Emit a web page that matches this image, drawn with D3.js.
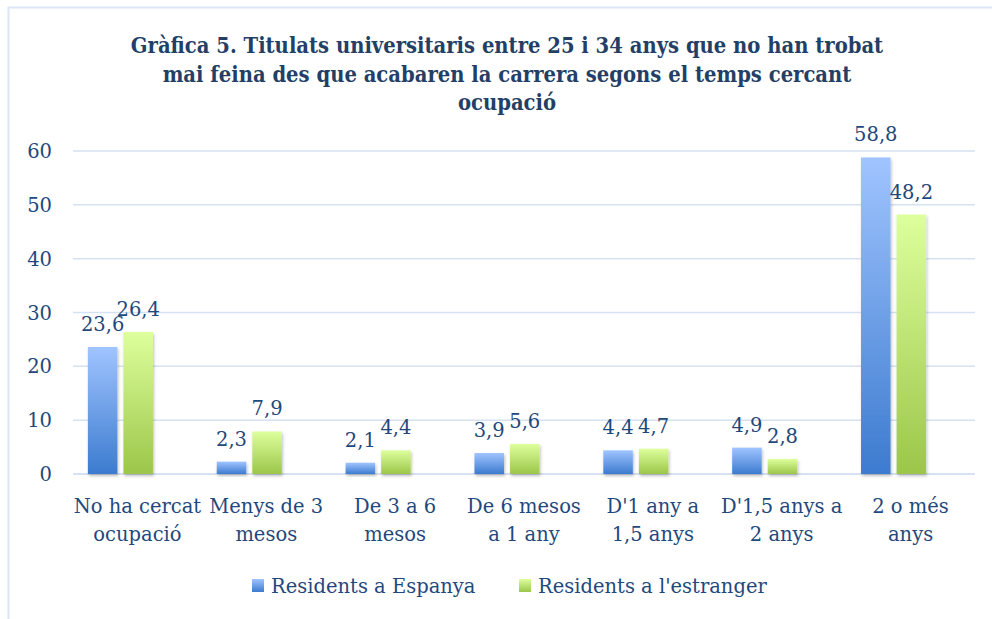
<!DOCTYPE html>
<html>
<head>
<meta charset="utf-8">
<script src="https://cdn.jsdelivr.net/npm/d3@7"></script>
<style>
  html, body { margin: 0; padding: 0; background: #fff; }
  svg { display: block; }
</style>
</head>
<body>
<div id="chart"></div>
<script>
const categories = [
  ["No ha cercat", "ocupació"],
  ["Menys de 3", "mesos"],
  ["De 3 a 6", "mesos"],
  ["De 6 mesos", "a 1 any"],
  ["D'1 any a", "1,5 anys"],
  ["D'1,5 anys a", "2 anys"],
  ["2 o més", "anys"]
];
const seriesNames = ["Residents a Espanya", "Residents a l'estranger"];
const espanya = [23.6, 2.3, 2.1, 3.9, 4.4, 4.9, 58.8];
const estranger = [26.4, 7.9, 4.4, 5.6, 4.7, 2.8, 48.2];
const yTicks = [0, 10, 20, 30, 40, 50, 60];
const titleLines = [
  "Gràfica 5. Titulats universitaris entre 25 i 34 anys que no han trobat",
  "mai feina des que acabaren la carrera segons el temps cercant",
  "ocupació"
];

const width = 992, height = 619;
const textColor = "#1f497d";
const gridColor = "#d6e1f1";
const serif = "'DejaVu Serif', serif";

const svg = d3.select("#chart").append("svg")
  .attr("width", width)
  .attr("height", height);

const defs = svg.append("defs");
const grads = [
  { id: "gBlue", top: "#a0c4ff", bottom: "#3c7bcf" },
  { id: "gGreen", top: "#ddff9c", bottom: "#9cc64a" }
];
grads.forEach(g => {
  const lg = defs.append("linearGradient")
    .attr("id", g.id)
    .attr("x1", 0).attr("y1", 0).attr("x2", 0).attr("y2", 1);
  lg.append("stop").attr("offset", "0%").attr("stop-color", g.top);
  lg.append("stop").attr("offset", "100%").attr("stop-color", g.bottom);
});
const shadow = defs.append("filter").attr("id", "shadow")
  .attr("x", "-30%").attr("y", "-10%").attr("width", "160%").attr("height", "130%");
shadow.append("feDropShadow")
  .attr("dx", 1).attr("dy", 2).attr("stdDeviation", 1.5)
  .attr("flood-color", "#000").attr("flood-opacity", 0.25);

// outer frame (cut off at right/bottom like the screenshot)
svg.append("rect")
  .attr("x", 8.5).attr("y", 7.5)
  .attr("width", width + 20).attr("height", height + 20)
  .attr("fill", "none")
  .attr("stroke", "#dce6f4")
  .attr("stroke-width", 2);

// title - condensed bold serif, sized so the first line is ~753px wide
const title = svg.append("g").selectAll("text")
  .data(titleLines)
  .join("text")
  .attr("x", 507)
  .attr("y", (d, i) => 53 + i * 28.5)
  .attr("text-anchor", "middle")
  .style("font-family", "'DejaVu Serif Condensed', 'DejaVu Serif', serif")
  .style("font-stretch", "condensed")
  .style("font-weight", "bold")
  .style("font-size", "20px")
  .style("fill", "#243f66")
  .text(d => d);
const w0 = title.node().getComputedTextLength();
if (w0 > 0) title.style("font-size", (20 * 753 / w0) + "px");

// scales
const y = d3.scaleLinear().domain([0, 60]).range([474, 151]);
const xAxis = d3.scaleBand().domain(d3.range(categories.length)).range([73, 975]);
const xBars = d3.scaleBand().domain(d3.range(categories.length)).range([56, 958]).paddingInner(0.495).paddingOuter(0.2475);
const xSub = d3.scaleBand().domain([0, 1]).range([0, xBars.bandwidth()]).paddingInner(0.17);

// gridlines
svg.append("g").selectAll("line")
  .data(yTicks)
  .join("line")
  .attr("x1", 73).attr("x2", 975)
  .attr("y1", d => y(d)).attr("y2", d => y(d))
  .attr("stroke", gridColor)
  .attr("stroke-width", d => d === 0 ? 2 : 1.5);

// y tick labels
svg.append("g").selectAll("text")
  .data(yTicks)
  .join("text")
  .attr("x", 52)
  .attr("y", d => y(d) + 7)
  .attr("text-anchor", "end")
  .style("font-family", serif)
  .style("font-size", "19.5px")
  .style("fill", textColor)
  .text(d => d);

// bars
const rows = categories.map((c, i) => [espanya[i], estranger[i]]);
const groups = svg.append("g").selectAll("g")
  .data(rows)
  .join("g")
  .attr("transform", (d, i) => `translate(${xBars(i)},0)`);

groups.selectAll("rect")
  .data(d => d)
  .join("rect")
  .attr("x", (d, j) => xSub(j))
  .attr("y", d => y(d))
  .attr("width", xSub.bandwidth())
  .attr("height", d => y(0) - y(d))
  .attr("fill", (d, j) => `url(#${grads[j].id})`)
  .attr("filter", "url(#shadow)");

groups.selectAll("text")
  .data(d => d)
  .join("text")
  .attr("x", (d, j) => xSub(j) + xSub.bandwidth() / 2)
  .attr("y", d => y(d) - 16)
  .attr("text-anchor", "middle")
  .style("font-family", serif)
  .style("font-size", "19.5px")
  .style("fill", textColor)
  .text(d => d3.format(".1f")(d).replace(".", ","));

// category labels
const cat = svg.append("g").selectAll("text")
  .data(categories)
  .join("text")
  .attr("x", (d, i) => xAxis(i) + xAxis.bandwidth() / 2)
  .attr("text-anchor", "middle")
  .style("font-family", serif)
  .style("font-size", "19.5px")
  .style("fill", textColor);
cat.selectAll("tspan")
  .data(d => d)
  .join("tspan")
  .attr("x", function () { return d3.select(this.parentNode).attr("x"); })
  .attr("y", (d, k) => 513 + k * 28)
  .text(d => d);

// legend
const legendX = [252, 519];
const legend = svg.append("g").selectAll("g")
  .data(seriesNames)
  .join("g")
  .attr("transform", (d, i) => `translate(${legendX[i]},579)`);
legend.append("rect")
  .attr("width", 12).attr("height", 13)
  .attr("fill", (d, i) => `url(#${grads[i].id})`);
legend.append("text")
  .attr("x", 19).attr("y", 14)
  .style("font-family", serif)
  .style("font-size", "19.5px")
  .style("fill", textColor)
  .text(d => d);
</script>
</body>
</html>
